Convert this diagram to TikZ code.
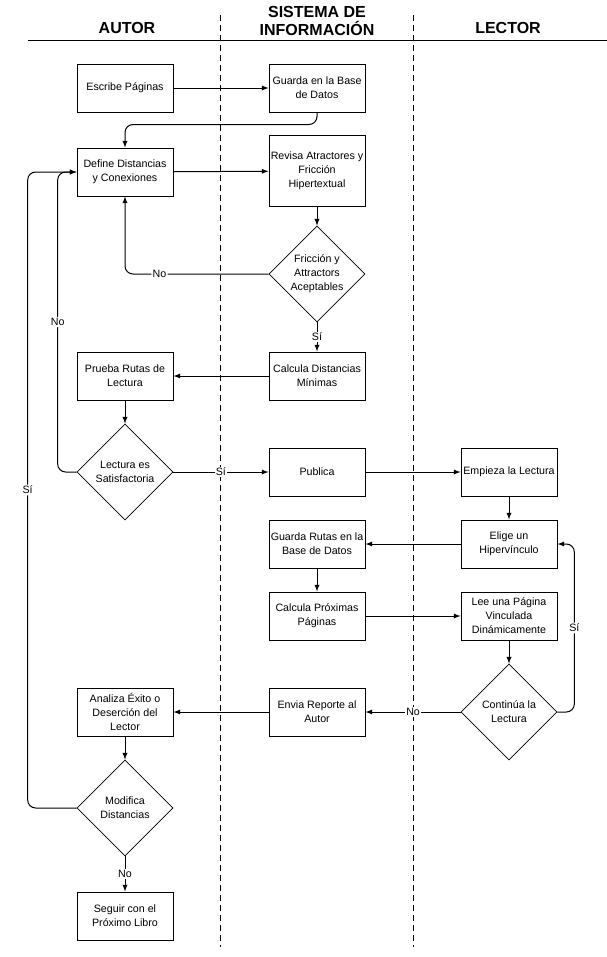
\documentclass[tikz,border=0pt]{standalone}
\usepackage{fontspec}
\setmainfont{Liberation Sans}
\usetikzlibrary{shapes,arrows,positioning}

\begin{document}
\begin{tikzpicture}[
    x=0.75pt, y=-0.75pt,
    every node/.style={font=\fontsize{8}{10.5}\selectfont},
    lane/.style={font=\bfseries\fontsize{12}{14}\selectfont, align=center},
    block/.style={rectangle, draw, line width=0.75pt, minimum width=72pt, minimum height=36pt, align=center, inner sep=1pt},
    decision/.style={diamond, draw, line width=0.5pt, aspect=1, minimum width=72pt, minimum height=72pt, align=center, inner sep=0pt},
    line/.style={->, >=latex, line width=0.75pt},
    answer/.style={fill=white, inner sep=1pt},
    divider/.style={line width=0.75pt, dash pattern=on 4.5pt off 3pt}
]
\useasboundingbox (0,0) rectangle (607,957);

% swimlanes
\node[lane] (autor) at (127,28) {AUTOR};
\node[lane] (sistema) at (317,21) {SISTEMA DE\\INFORMACIÓN};
\node[lane] (lector) at (508,28) {LECTOR};
\draw[line width=0.75pt] (28,40.5) -- (607,40.5);
\draw[divider] (220,15) -- (220,947);
\draw[divider] (413,15) -- (413,947);

% autor
\node[block] (escribe) at (125,88) {Escribe Páginas};
\node[block] (define) at (125,172) {Define Distancias\\y Conexiones};
\node[block] (prueba) at (125,376) {Prueba Rutas de\\Lectura};
\node[decision] (satisf) at (125,472) {Lectura es\\Satisfactoria};
\node[block] (analiza) at (125,712) {Analiza Éxito o\\Deserción del\\Lector};
\node[decision] (modifica) at (125,808) {Modifica\\Distancias};
\node[block] (seguir) at (125,916) {Seguir con el\\Próximo Libro};

% sistema de informacion
\node[block] (guardabd) at (317,88) {Guarda en la Base\\de Datos};
\node[block, minimum height=53pt] (revisa) at (317,171) {Revisa Atractores y\\Fricción\\Hipertextual};
\node[decision] (friccion) at (317,274) {Fricción y\\Attractors\\Aceptables};
\node[block] (calcdist) at (317,376) {Calcula Distancias\\Mínimas};
\node[block] (publica) at (317,472) {Publica};
\node[block] (guardarutas) at (317,544) {Guarda Rutas en la\\Base de Datos};
\node[block] (calcprox) at (317,616) {Calcula Próximas\\Páginas};
\node[block] (envia) at (317,712) {Envia Reporte al\\Autor};

% lector
\node[block] (empieza) at (509,472) {Empieza la Lectura};
\node[block] (elige) at (509,544) {Elige un\\Hipervínculo};
\node[block] (lee) at (509,616) {Lee una Página\\Vinculada\\Dinámicamente};
\node[decision] (continua) at (509,712) {Continúa la\\Lectura};

% connectors
\draw[line] (escribe) -- (guardabd);
\draw[line, rounded corners=6pt] (guardabd.south) -- ++(0,12) -| (define.north);
\draw[line] (define) -- (revisa);
\draw[line] (revisa) -- (friccion);
\draw[line, rounded corners=6pt] (friccion.west) -| node[answer, pos=0.38] {No} (define.south);
\draw[line] (friccion) -- node[answer] {Sí} (calcdist);
\draw[line] (calcdist) -- (prueba);
\draw[line] (prueba) -- (satisf);
\draw[line, rounded corners=6pt] (satisf.west) -- ++(-19,0) |- node[answer, pos=0.25] {No} (define.west);
\draw[line] (satisf) -- node[answer] {Sí} (publica);
\draw[line] (publica) -- (empieza);
\draw[line] (empieza) -- (elige);
\draw[line] (elige) -- (guardarutas);
\draw[line] (guardarutas) -- (calcprox);
\draw[line] (calcprox) -- (lee);
\draw[line] (lee) -- (continua);
\draw[line, rounded corners=6pt] (continua.east) -- ++(17,0) |- node[answer, pos=0.25] {Sí} (elige.east);
\draw[line] (continua) -- node[answer] {No} (envia);
\draw[line] (envia) -- (analiza);
\draw[line] (analiza) -- (modifica);
\draw[line, rounded corners=6pt] (modifica.west) -- ++(-49,0) |- node[answer, pos=0.25] {Sí} (define.west);
\draw[line] (modifica) -- node[answer] {No} (seguir);

\end{tikzpicture}
\end{document}
